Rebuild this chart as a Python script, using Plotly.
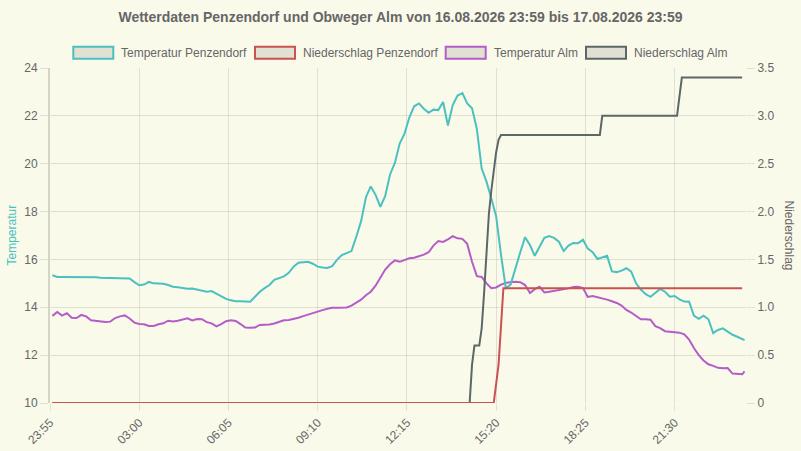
import pandas as pd
import plotly.graph_objects as go

# Temperaturen alle 10 Minuten ab 00:00, letzter Wert 23:55
zeit_temp = [t.strftime("%Y-%m-%d %H:%M")
             for t in pd.date_range("2026-08-17 00:00", periods=144, freq="10min")]
zeit_temp.append("2026-08-17 23:55")

temp_penzendorf = [
    15.34, 15.27, 15.27, 15.27, 15.27, 15.26, 15.25, 15.24, 15.24, 15.25,
    15.23, 15.22, 15.24, 15.23, 15.22, 15.20, 15.20, 15.05, 14.92, 14.95,
    15.06, 15.00, 15.00, 14.98, 14.93, 14.86, 14.84, 14.80, 14.77, 14.78,
    14.74, 14.71, 14.65, 14.68, 14.58, 14.45, 14.35, 14.29, 14.25, 14.25,
    14.24, 14.23, 14.44, 14.65, 14.80, 14.93, 15.15, 15.23, 15.29, 15.44,
    15.70, 15.86, 15.89, 15.90, 15.82, 15.70, 15.66, 15.64, 15.72, 15.98,
    16.18, 16.25, 16.35, 16.95, 17.60, 18.60, 19.05, 18.70, 18.20, 18.65,
    19.55, 20.03, 20.84, 21.26, 21.93, 22.40, 22.52, 22.30, 22.13, 22.26,
    22.24, 22.58, 21.60, 22.45, 22.85, 22.95, 22.52, 22.32, 21.45, 19.80,
    19.25, 18.55, 17.80, 16.20, 14.80, 14.95, 15.68, 16.30, 16.93, 16.60,
    16.15, 16.50, 16.90, 16.98, 16.90, 16.74, 16.35, 16.58, 16.69, 16.68,
    16.82, 16.45, 16.30, 16.02, 16.10, 16.15, 15.50, 15.47, 15.53, 15.63,
    15.49, 15.00, 14.74, 14.55, 14.44, 14.60, 14.77, 14.65, 14.44, 14.47,
    14.33, 14.24, 14.23, 13.65, 13.52, 13.65, 13.50, 12.92, 13.05, 13.12,
    13.00, 12.85, 12.77, 12.68, 12.63]

temp_alm = [
    13.64, 13.80, 13.65, 13.75, 13.56, 13.55, 13.68, 13.62, 13.46, 13.44,
    13.40, 13.39, 13.40, 13.55, 13.62, 13.66, 13.53, 13.36, 13.30, 13.29,
    13.22, 13.22, 13.29, 13.33, 13.44, 13.41, 13.44, 13.50, 13.54, 13.45,
    13.51, 13.50, 13.38, 13.33, 13.20, 13.30, 13.42, 13.46, 13.43, 13.30,
    13.15, 13.14, 13.15, 13.26, 13.26, 13.28, 13.32, 13.38, 13.46, 13.47,
    13.50, 13.56, 13.63, 13.70, 13.76, 13.82, 13.88, 13.94, 13.98, 13.98,
    13.98, 13.99, 14.07, 14.18, 14.32, 14.50, 14.65, 14.90, 15.25, 15.58,
    15.80, 15.96, 15.90, 15.98, 16.05, 16.07, 16.12, 16.20, 16.30, 16.58,
    16.77, 16.73, 16.84, 16.97, 16.88, 16.86, 16.65, 15.90, 15.30, 15.27,
    15.00, 14.80, 14.83, 14.95, 15.02, 15.05, 15.07, 15.05, 14.93, 14.60,
    14.76, 14.86, 14.62, 14.65, 14.68, 14.71, 14.75, 14.79, 14.85, 14.86,
    14.80, 14.43, 14.47, 14.43, 14.38, 14.32, 14.25, 14.18, 14.07, 13.89,
    13.78, 13.63, 13.50, 13.50, 13.48, 13.21, 13.13, 13.00, 12.99, 12.97,
    12.94, 12.87, 12.65, 12.30, 12.00, 11.78, 11.62, 11.55, 11.47, 11.45,
    11.46, 11.23, 11.20, 11.20, 11.32]

# Niederschlag (kumuliert), nur die Stellen wo sich etwas tut
zeit_nied_penzendorf = ["00:00", "15:15", "15:25", "15:35", "23:50"]
nied_penzendorf = [0, 0, 0.4, 1.2, 1.2]

zeit_nied_alm = ["00:00", "14:25", "14:30", "14:35", "14:45", "14:50", "14:55",
                 "15:00", "15:05", "15:10", "15:15", "15:20", "15:25", "15:30",
                 "18:55", "19:00", "21:35", "21:45", "23:50"]
nied_alm = [0, 0, 0.4, 0.6, 0.6, 0.78, 1.15, 1.55, 1.98, 2.22, 2.42, 2.62, 2.75,
            2.8, 2.8, 3.0, 3.0, 3.4, 3.4]

x_ticks = ["2026-08-16 23:55", "2026-08-17 03:00", "2026-08-17 06:05",
           "2026-08-17 09:10", "2026-08-17 12:15", "2026-08-17 15:20",
           "2026-08-17 18:25", "2026-08-17 21:30"]
y2_ticks = [0, 0.5, 1, 1.5, 2, 2.5, 3, 3.5]
y2_labels = ["0", "0.5", "1.0", "1.5", "2.0", "2.5", "3.0", "3.5"]

legend_labels = ["Temperatur Penzendorf", "Niederschlag Penzendorf",
                 "Temperatur Alm", "Niederschlag Alm"]

BG = "#fafaeb"
GRID = "rgba(0,0,0,0.1)"
TXT = "#666666"
FONT = "Liberation Sans, Arial, sans-serif"
C_TP = "rgb(75,192,192)"
C_NP = "rgb(204,82,82)"
C_TA = "rgb(180,92,200)"
C_NA = "rgb(92,104,104)"
colors = [C_TP, C_NP, C_TA, C_NA]


def main():
    day = "2026-08-17 "
    fig = go.Figure()

    # Reihenfolge: erster Datensatz liegt oben
    fig.add_trace(go.Scatter(x=[day + z for z in zeit_nied_alm], y=nied_alm,
                             yaxis="y2", mode="lines",
                             line=dict(color=C_NA, width=2)))
    fig.add_trace(go.Scatter(x=zeit_temp, y=temp_alm, mode="lines",
                             line=dict(color=C_TA, width=2)))
    fig.add_trace(go.Scatter(x=[day + z for z in zeit_nied_penzendorf],
                             y=nied_penzendorf, yaxis="y2", mode="lines",
                             line=dict(color=C_NP, width=2)))
    fig.add_trace(go.Scatter(x=zeit_temp, y=temp_penzendorf, mode="lines",
                             line=dict(color=C_TP, width=2)))

    # plot area in pixels: x 50..746, y 68..403
    def px(p):
        return (p - 50) / 696

    def py(p):
        return (403 - p) / 335

    shapes = []
    annotations = []
    box_starts = [73.3, 255, 445.7, 586]
    for x0, label, col in zip(box_starts, legend_labels, colors):
        shapes.append(dict(type="rect", xref="paper", yref="paper",
                           x0=px(x0), x1=px(x0 + 40), y0=py(58.7), y1=py(46.7),
                           fillcolor=GRID, line=dict(color=col, width=2)))
        annotations.append(dict(text=label, xref="paper", yref="paper",
                                x=px(x0 + 46), y=py(52.7), xanchor="left",
                                yanchor="middle", showarrow=False,
                                font=dict(size=12, color=TXT)))

    annotations.append(dict(text="Temperatur", xref="paper", yref="paper",
                            x=px(11), y=0.5, textangle=-90, showarrow=False,
                            xanchor="center", yanchor="middle",
                            font=dict(size=12, color=C_TP)))
    annotations.append(dict(text="Niederschlag", xref="paper", yref="paper",
                            x=px(789), y=0.5, textangle=90, showarrow=False,
                            xanchor="center", yanchor="middle",
                            font=dict(size=12, color=TXT)))

    fig.update_layout(
        width=801, height=451,
        margin=dict(l=50, r=55, t=68, b=48),
        paper_bgcolor=BG, plot_bgcolor=BG,
        showlegend=False,
        font=dict(family=FONT, size=12, color=TXT),
        title=dict(text="<b>Wetterdaten Penzendorf und Obweger Alm von "
                        "16.08.2026 23:59 bis 17.08.2026 23:59</b>",
                   x=0.5, xanchor="center", y=1 - 17 / 451, yanchor="middle",
                   font=dict(size=14, color=TXT)),
        xaxis=dict(type="date", range=["2026-08-16 23:55", "2026-08-17 23:58"],
                   tickvals=x_ticks, tickformat="%H:%M", tickangle=-45,
                   showgrid=True, gridcolor=GRID, ticks="outside", ticklen=7,
                   tickcolor=GRID, showline=False, zeroline=False,
                   automargin=False),
        yaxis=dict(range=[10, 24], dtick=2, showgrid=True, gridcolor=GRID,
                   ticks="outside", ticklen=8, tickcolor=GRID, showline=True,
                   linecolor="rgba(0,0,0,0.15)", linewidth=2, zeroline=False,
                   automargin=False),
        yaxis2=dict(range=[0, 3.5], overlaying="y", side="right",
                    tickvals=y2_ticks, ticktext=y2_labels, showgrid=False,
                    ticks="outside", ticklen=8, tickcolor=GRID, showline=False,
                    zeroline=False, automargin=False),
        shapes=shapes,
        annotations=annotations,
    )

    # Seite ohne Standardrand, damit die Grafik bei 0,0 beginnt
    fig.write_html("out.html",
                   config={"displayModeBar": False},
                   post_script="document.body.style.margin='0';"
                               "document.body.style.background='" + BG + "';")


if __name__ == "__main__":
    main()
